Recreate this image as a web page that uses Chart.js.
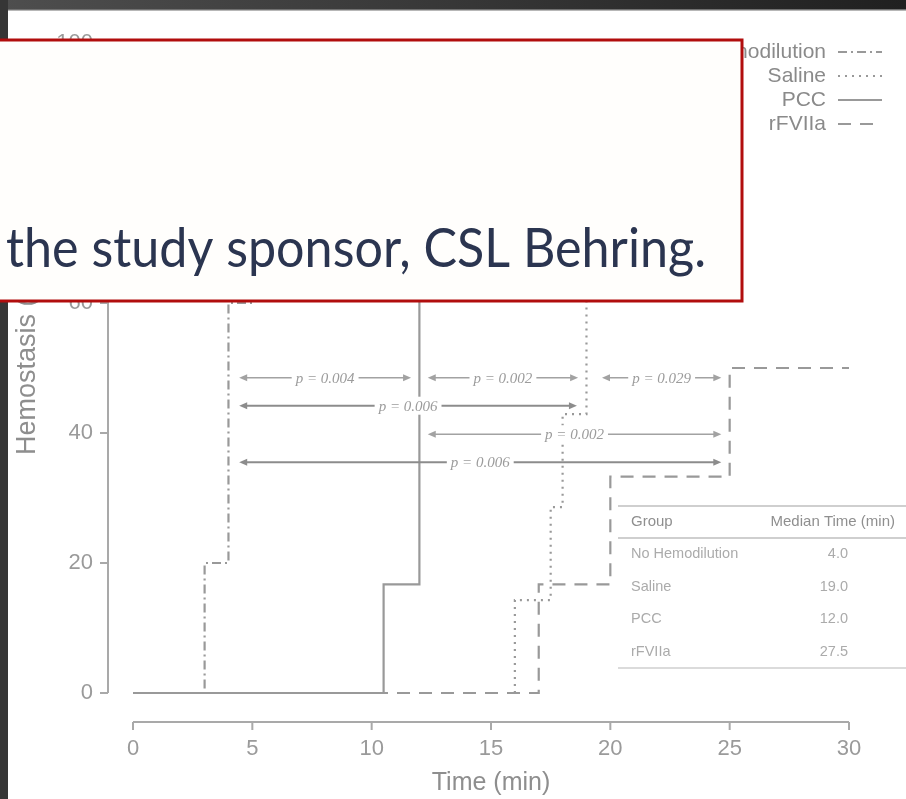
<!DOCTYPE html>
<html>
<head>
<meta charset="utf-8">
<script src="https://cdn.jsdelivr.net/npm/chart.js@4/dist/chart.umd.min.js"></script>
<style>
  html, body { margin: 0; padding: 0; background: #fff; overflow: hidden; }
  canvas { display: block; }
</style>
</head>
<body>
<canvas id="km" width="906" height="799"></canvas>
<script>
// Axis ticks
const timeTicks = [0, 5, 10, 15, 20, 25, 30];
const pctTicks = [0, 20, 40, 60, 80, 100];

// Groups and their step curves: event time (min) and cumulative hemostasis (%)
const groups = ['No Hemodilution', 'Saline', 'PCC', 'rFVIIa'];
const noHemoTimes = [0, 3, 4, 5];
const noHemoPct   = [0, 20, 60, 100];
const salineTimes = [16, 16, 17.5, 18, 19];
const salinePct   = [0, 14.3, 28.6, 42.9, 100];
const pccTimes    = [0, 10.5, 12];
const pccPct      = [0, 16.7, 100];
const rfviiaTimes = [0, 17, 20, 25, 30];
const rfviiaPct   = [0, 16.7, 33.3, 50, 50];

// Median time to hemostasis per group (min)
const medianTimes = ['4.0', '19.0', '12.0', '27.5'];

// Pairwise comparisons: arrow start / end (min), height (%), p value label
const compFrom = [4.45, 12.35, 19.65, 4.45, 12.35, 4.45];
const compTo   = [11.65, 18.65, 24.65, 18.6, 24.65, 24.65];
const compAt   = [48.5, 48.5, 48.5, 44.2, 39.8, 35.5];
const compP    = ['p = 0.004', 'p = 0.002', 'p = 0.029', 'p = 0.006', 'p = 0.002', 'p = 0.006'];

const notice = 'the study sponsor, CSL Behring.';

// line dash patterns and stacking order per group (lower order sits on top)
const dashes = [[9, 4, 2, 4], [2, 5], [], [13, 9]];
const drawOrder = [2, 3, 0, 1];
const lineGray = '#999999';

function toPoints(times, pct) {
  return times.map((t, i) => ({ x: t, y: pct[i] }));
}

const seriesTimes = [noHemoTimes, salineTimes, pccTimes, rfviiaTimes];
const seriesPct = [noHemoPct, salinePct, pccPct, rfviiaPct];

const datasets = groups.map((g, i) => ({
  label: g,
  data: toPoints(seriesTimes[i], seriesPct[i]),
  order: drawOrder[i],
  borderDash: dashes[i],
  borderColor: lineGray,
  borderWidth: 2.2,
  stepped: 'before',
  pointRadius: 0,
  fill: false,
  clip: false
}));

const FONT = '"Liberation Sans", Arial, sans-serif';

function arrowHead(ctx, x, y, dir) {
  ctx.beginPath();
  ctx.moveTo(x, y);
  ctx.lineTo(x - dir * 8, y - 3.5);
  ctx.lineTo(x - dir * 8, y + 3.5);
  ctx.closePath();
  ctx.fill();
}

const decor = {
  id: 'decor',
  beforeDraw(chart) {
    const ctx = chart.ctx;
    ctx.save();
    ctx.fillStyle = '#ffffff';
    ctx.fillRect(0, 0, chart.width, chart.height);
    ctx.restore();
  },
  afterDraw(chart) {
    const ctx = chart.ctx;
    const xs = chart.scales.x, ys = chart.scales.y;
    ctx.save();

    // ---- axes (offset, R style) ----
    const axisColor = '#a9a9a9';
    const tickText = '#9a9a9a';
    const xAxisY = ys.getPixelForValue(0) + 29;
    const yAxisX = xs.getPixelForValue(0) - 25;
    ctx.strokeStyle = axisColor;
    ctx.lineWidth = 2;
    ctx.setLineDash([]);
    ctx.beginPath();
    ctx.moveTo(xs.getPixelForValue(timeTicks[0]), xAxisY);
    ctx.lineTo(xs.getPixelForValue(timeTicks[timeTicks.length - 1]), xAxisY);
    timeTicks.forEach(t => {
      const px = xs.getPixelForValue(t);
      ctx.moveTo(px, xAxisY);
      ctx.lineTo(px, xAxisY + 8);
    });
    ctx.stroke();
    ctx.beginPath();
    ctx.moveTo(yAxisX, ys.getPixelForValue(pctTicks[0]));
    ctx.lineTo(yAxisX, ys.getPixelForValue(pctTicks[pctTicks.length - 1]));
    pctTicks.forEach(v => {
      const py = ys.getPixelForValue(v);
      ctx.moveTo(yAxisX, py);
      ctx.lineTo(yAxisX - 8, py);
    });
    ctx.stroke();

    ctx.fillStyle = tickText;
    ctx.font = '22px ' + FONT;
    ctx.textAlign = 'center';
    ctx.textBaseline = 'middle';
    timeTicks.forEach(t => ctx.fillText(String(t), xs.getPixelForValue(t), xAxisY + 27));
    ctx.textAlign = 'right';
    pctTicks.forEach(v => ctx.fillText(String(v), yAxisX - 15, ys.getPixelForValue(v)));

    ctx.fillStyle = '#8e8e8e';
    ctx.font = '25px ' + FONT;
    ctx.textAlign = 'center';
    ctx.fillText('Time (min)', (xs.getPixelForValue(0) + xs.getPixelForValue(30)) / 2, xAxisY + 61);
    ctx.save();
    ctx.font = '27px ' + FONT;
    ctx.translate(28, ys.getPixelForValue(0) - 238);
    ctx.rotate(-Math.PI / 2);
    ctx.textAlign = 'left';
    ctx.fillText('Hemostasis (%)', 0, 0);
    ctx.restore();

    // ---- legend, top right ----
    ctx.font = '21px ' + FONT;
    ctx.textAlign = 'right';
    ctx.textBaseline = 'middle';
    groups.forEach((g, i) => {
      const y = 52 + i * 24;
      ctx.fillStyle = '#8a8a8a';
      ctx.fillText(g, 826, y);
      ctx.strokeStyle = lineGray;
      ctx.lineWidth = 2.2;
      ctx.setLineDash(dashes[i]);
      ctx.beginPath();
      ctx.moveTo(838, y);
      ctx.lineTo(882, y);
      ctx.stroke();
    });
    ctx.setLineDash([]);

    // ---- pairwise comparison arrows ----
    ctx.font = 'italic 15px "Liberation Serif", "Times New Roman", serif';
    ctx.textAlign = 'center';
    ctx.textBaseline = 'middle';
    compP.forEach((label, i) => {
      const x0 = xs.getPixelForValue(compFrom[i]);
      const x1 = xs.getPixelForValue(compTo[i]);
      const y = ys.getPixelForValue(compAt[i]);
      const strong = (i === 3 || i === 5);
      const col = strong ? '#8c8c8c' : '#a2a2a2';
      ctx.strokeStyle = col;
      ctx.fillStyle = col;
      ctx.lineWidth = strong ? 2 : 1.5;
      ctx.beginPath();
      ctx.moveTo(x0 + 4, y);
      ctx.lineTo(x1 - 4, y);
      ctx.stroke();
      arrowHead(ctx, x0, y, -1);
      arrowHead(ctx, x1, y, 1);
      const cx = (x0 + x1) / 2;
      const w = ctx.measureText(label).width;
      ctx.fillStyle = '#ffffff';
      ctx.fillRect(cx - w / 2 - 4, y - 9, w + 8, 18);
      ctx.fillStyle = '#9c9c9c';
      ctx.fillText(label, cx, y + 1);
    });

    // ---- median time table ----
    const tLeft = 618, tRight = 906;
    ctx.strokeStyle = '#cfcfcf';
    ctx.lineWidth = 2;
    ctx.beginPath();
    ctx.moveTo(tLeft, 506); ctx.lineTo(tRight, 506);
    ctx.moveTo(tLeft, 538); ctx.lineTo(tRight, 538);
    ctx.stroke();
    ctx.lineWidth = 1.5;
    ctx.beginPath();
    ctx.moveTo(tLeft, 668); ctx.lineTo(tRight, 668);
    ctx.stroke();
    ctx.textBaseline = 'middle';
    ctx.font = '15px ' + FONT;
    ctx.fillStyle = '#8f8f8f';
    ctx.textAlign = 'left';
    ctx.fillText('Group', 631, 522);
    ctx.textAlign = 'right';
    ctx.fillText('Median Time (min)', 895, 522);
    ctx.font = '14.5px ' + FONT;
    ctx.fillStyle = '#ababab';
    groups.forEach((g, i) => {
      const y = 554 + i * 32.5;
      ctx.textAlign = 'left';
      ctx.fillText(g, 631, y);
      ctx.textAlign = 'right';
      ctx.fillText(medianTimes[i], 848, y);
    });

    // ---- page frame ----
    const grad = ctx.createLinearGradient(0, 0, chart.width, 0);
    grad.addColorStop(0, '#4e4e4e');
    grad.addColorStop(1, '#202020');
    ctx.fillStyle = grad;
    ctx.fillRect(0, 0, chart.width, 10);
    ctx.fillStyle = '#707070';
    ctx.fillRect(0, 9, chart.width, 1.5);
    ctx.fillStyle = '#363636';
    ctx.fillRect(0, 0, 8, chart.height);

    // ---- notice box ----
    ctx.fillStyle = '#fffefc';
    ctx.fillRect(-10, 40, 752, 261);
    ctx.strokeStyle = '#b10d0d';
    ctx.lineWidth = 3;
    ctx.strokeRect(-10, 40, 752, 261);
    ctx.fillStyle = '#2b3550';
    ctx.font = '54px Lato, "Open Sans", sans-serif';
    ctx.textAlign = 'left';
    ctx.textBaseline = 'alphabetic';
    ctx.fillText(notice, 6, 267, 700);

    ctx.restore();
  }
};

new Chart(document.getElementById('km'), {
  type: 'line',
  data: { datasets },
  options: {
    responsive: false,
    animation: false,
    devicePixelRatio: 1,
    layout: { padding: { left: 133, right: 57, top: 43, bottom: 106 } },
    scales: {
      x: { type: 'linear', min: 0, max: 30, display: false },
      y: { type: 'linear', min: 0, max: 100, display: false }
    },
    plugins: { legend: { display: false }, tooltip: { enabled: false } },
    elements: { line: { tension: 0, borderCapStyle: 'butt' } }
  },
  plugins: [decor]
});
</script>
</body>
</html>
